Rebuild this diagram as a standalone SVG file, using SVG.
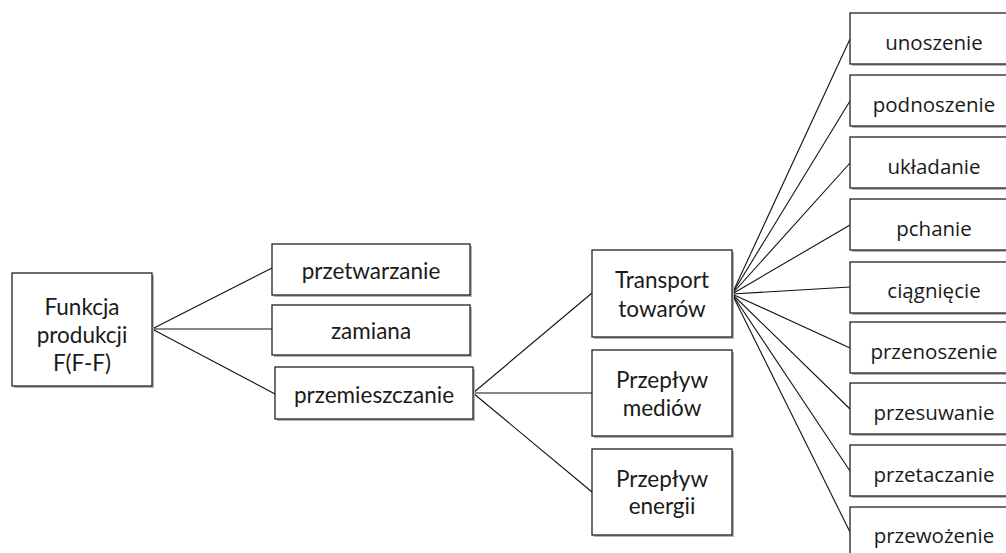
<svg xmlns="http://www.w3.org/2000/svg" width="1006" height="553" viewBox="0 0 1006 553">
  <defs>
    <style>
      .box { fill: #ffffff; stroke: #222222; stroke-width: 1.3; }
      .shadow { fill: #b4b4b4; }
      .lbl { font-family: Lato, "Open Sans", sans-serif; font-size: 22.5px; fill: #1a1a1a; text-anchor: middle; }
      .leaf { font-family: "Open Sans", "Noto Sans", sans-serif; font-size: 20.5px; fill: #1a1a1a; text-anchor: middle; }
      .edge { stroke: #111111; stroke-width: 1.1; fill: none; }
    </style>
  </defs>
  <rect width="1006" height="553" fill="#ffffff"/>

  <!-- connectors -->
  <g id="connectors">
    <line class="edge" x1="152" y1="329" x2="272" y2="268"/>
    <line class="edge" x1="152" y1="329" x2="272" y2="329"/>
    <line class="edge" x1="152" y1="329" x2="275" y2="394"/>
    <line class="edge" x1="473" y1="393" x2="592" y2="293"/>
    <line class="edge" x1="473" y1="393" x2="592" y2="393"/>
    <line class="edge" x1="473" y1="393" x2="592" y2="492"/>
    <line class="edge" x1="732" y1="294" x2="850" y2="39"/>
    <line class="edge" x1="732" y1="294" x2="850" y2="101"/>
    <line class="edge" x1="732" y1="294" x2="850" y2="163"/>
    <line class="edge" x1="732" y1="294" x2="850" y2="225"/>
    <line class="edge" x1="732" y1="294" x2="850" y2="287"/>
    <line class="edge" x1="732" y1="294" x2="850" y2="348"/>
    <line class="edge" x1="732" y1="294" x2="850" y2="409"/>
    <line class="edge" x1="732" y1="294" x2="850" y2="471"/>
    <line class="edge" x1="732" y1="294" x2="850" y2="532"/>
  </g>

  <!-- root -->
  <g id="n-funkcja">
    <rect class="shadow" x="14" y="275" width="140" height="113"/>
    <rect class="box" x="12" y="273" width="140" height="113"/>
    <text class="lbl" x="82" y="315">Funkcja</text>
    <text class="lbl" x="82" y="343">produkcji</text>
    <text class="lbl" x="82" y="371">F(F-F)</text>
  </g>

  <!-- second level -->
  <g id="n-przetwarzanie">
    <rect class="shadow" x="274" y="246" width="198" height="51"/>
    <rect class="box" x="272" y="244" width="198" height="51"/>
    <text class="lbl" x="371" y="279">przetwarzanie</text>
  </g>
  <g id="n-zamiana">
    <rect class="shadow" x="274" y="307" width="198" height="50"/>
    <rect class="box" x="272" y="305" width="198" height="50"/>
    <text class="lbl" x="371" y="339">zamiana</text>
  </g>
  <g id="n-przemieszczanie">
    <rect class="shadow" x="277" y="369" width="198" height="52"/>
    <rect class="box" x="275" y="367" width="198" height="52"/>
    <text class="lbl" x="374" y="403">przemieszczanie</text>
  </g>

  <!-- third level -->
  <g id="n-transport">
    <rect class="shadow" x="594" y="252" width="140" height="87"/>
    <rect class="box" x="592" y="250" width="140" height="87"/>
    <text class="lbl" x="662" y="288">Transport</text>
    <text class="lbl" x="662" y="317">towarów</text>
  </g>
  <g id="n-media">
    <rect class="shadow" x="594" y="352" width="140" height="86"/>
    <rect class="box" x="592" y="350" width="140" height="86"/>
    <text class="lbl" x="662" y="388">Przepływ</text>
    <text class="lbl" x="662" y="416">mediów</text>
  </g>
  <g id="n-energia">
    <rect class="shadow" x="594" y="451" width="140" height="86"/>
    <rect class="box" x="592" y="449" width="140" height="86"/>
    <text class="lbl" x="662" y="487">Przepływ</text>
    <text class="lbl" x="662" y="514">energii</text>
  </g>

  <!-- leaves -->
  <g id="n-unoszenie">
    <rect class="shadow" x="852" y="15" width="170" height="51"/>
    <rect class="box" x="850" y="13" width="170" height="51"/>
    <text class="leaf" x="934" y="50">unoszenie</text>
  </g>
  <g id="n-podnoszenie">
    <rect class="shadow" x="852" y="77" width="170" height="51"/>
    <rect class="box" x="850" y="75" width="170" height="51"/>
    <text class="leaf" x="934" y="112">podnoszenie</text>
  </g>
  <g id="n-ukladanie">
    <rect class="shadow" x="852" y="139" width="170" height="51"/>
    <rect class="box" x="850" y="137" width="170" height="51"/>
    <text class="leaf" x="934" y="174">układanie</text>
  </g>
  <g id="n-pchanie">
    <rect class="shadow" x="852" y="201" width="170" height="51"/>
    <rect class="box" x="850" y="199" width="170" height="51"/>
    <text class="leaf" x="934" y="236">pchanie</text>
  </g>
  <g id="n-ciagniecie">
    <rect class="shadow" x="852" y="264" width="170" height="51"/>
    <rect class="box" x="850" y="262" width="170" height="51"/>
    <text class="leaf" x="934" y="298">ciągnięcie</text>
  </g>
  <g id="n-przenoszenie">
    <rect class="shadow" x="852" y="324" width="170" height="51"/>
    <rect class="box" x="850" y="322" width="170" height="51"/>
    <text class="leaf" x="934" y="359">przenoszenie</text>
  </g>
  <g id="n-przesuwanie">
    <rect class="shadow" x="852" y="385" width="170" height="51"/>
    <rect class="box" x="850" y="383" width="170" height="51"/>
    <text class="leaf" x="934" y="420">przesuwanie</text>
  </g>
  <g id="n-przetaczanie">
    <rect class="shadow" x="852" y="447" width="170" height="51"/>
    <rect class="box" x="850" y="445" width="170" height="51"/>
    <text class="leaf" x="934" y="482">przetaczanie</text>
  </g>
  <g id="n-przewozenie">
    <rect class="shadow" x="852" y="509" width="170" height="51"/>
    <rect class="box" x="850" y="507" width="170" height="51"/>
    <text class="leaf" x="934" y="543">przewożenie</text>
  </g>
</svg>
